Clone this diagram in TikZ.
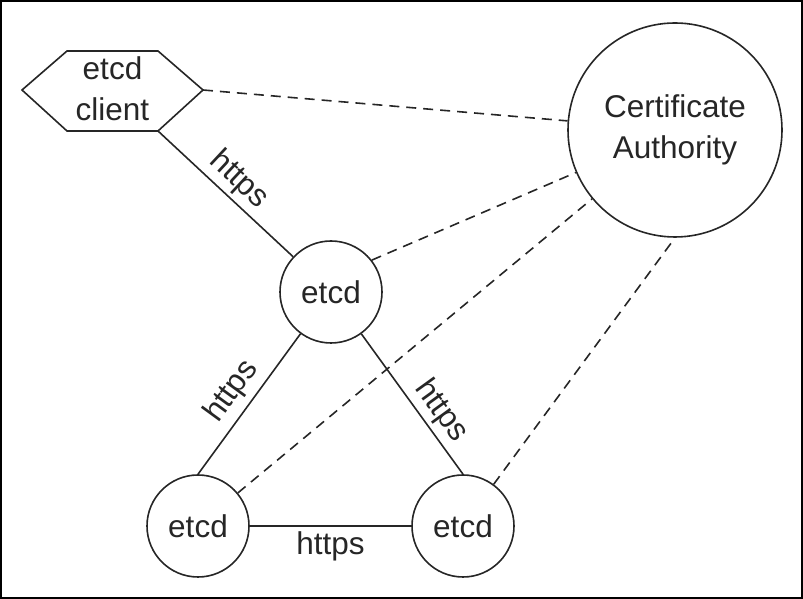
\documentclass[tikz,border=0pt]{standalone}
\usepackage{fontspec}
\setmainfont{Liberation Sans}
\definecolor{ink}{HTML}{262626}
\begin{document}
\begin{tikzpicture}[x=1pt,y=1pt,line width=1.6pt,draw=ink,text=ink,
  txt/.style={font=\fontsize{31.5}{40.5}\selectfont},
  etcdnode/.style={circle,draw,minimum size=102pt,inner sep=0pt,txt},
  canode/.style={circle,draw,minimum size=214pt,inner sep=0pt,txt,align=center},
  lbl/.style={txt,inner sep=4pt},
  trust/.style={dash pattern=on 10pt off 7pt},
  link/.style={}]
\useasboundingbox (0,0) rectangle (803,599);
\draw[line width=2pt,draw=black] (1,1) rectangle (802,598);

% client hexagon
\node[txt,align=center,inner sep=0pt] (client) at (112.5,510) {etcd\\client};
\coordinate (clL) at (22,509);
\coordinate (clTL) at (67,548);
\coordinate (clTR) at (158,548);
\coordinate (clR) at (203,509);
\coordinate (clBR) at (158,468);
\coordinate (clBL) at (67,468);
\draw (clL) -- (clTL) -- (clTR) -- (clR) -- (clBR) -- (clBL) -- cycle;

% nodes
\node[canode] (ca) at (675,469) {Certificate\\Authority};
\node[etcdnode] (e1) at (331,307) {etcd};
\node[etcdnode] (e2) at (198,73) {etcd};
\node[etcdnode] (e3) at (463,73) {etcd};

% https links
\draw[link] (clBR) -- (e1) node[lbl,midway,sloped,above] {https};
\draw[link] (e2.north) -- (e1) node[lbl,midway,sloped,above,inner sep=6pt] {https};
\draw[link] (e1) -- (e3.north) node[lbl,pos=0.63,sloped,above] {https};
\draw[link] (e2) -- (e3) node[lbl,midway,below,inner sep=5pt] {https};

% trust to CA
\draw[trust] (clR) -- (ca);
\draw[trust] (e1.38) -- (ca);
\draw[trust] (e2) -- (ca);
\draw[trust] (e3) -- (ca.south);
\end{tikzpicture}
\end{document}
